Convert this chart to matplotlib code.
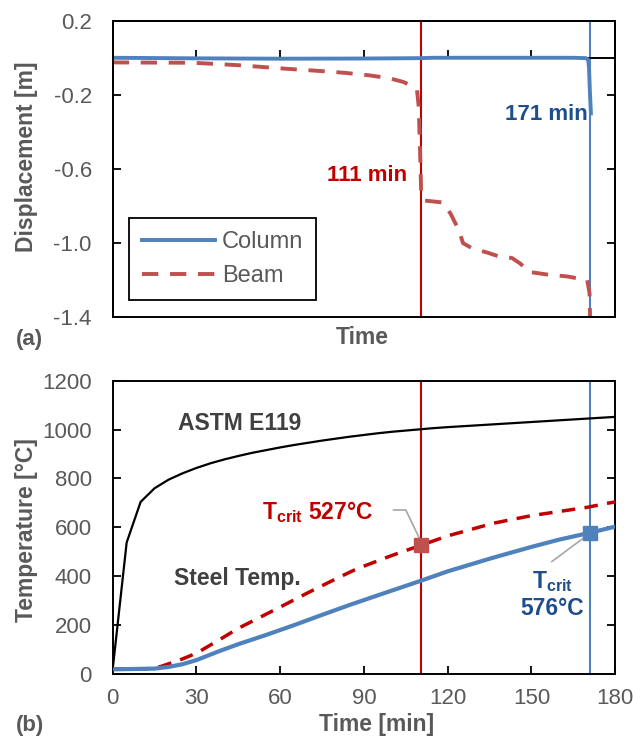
import numpy as np
import matplotlib
matplotlib.use('Agg')
import matplotlib.pyplot as plt
from matplotlib.patches import Rectangle

plt.rcParams['font.family'] = ['Liberation Sans', 'DejaVu Sans']
plt.rcParams['mathtext.fontset'] = 'custom'
plt.rcParams['mathtext.rm'] = 'Liberation Sans'
plt.rcParams['mathtext.bf'] = 'Liberation Sans:bold'
plt.rcParams['axes.unicode_minus'] = False

# --- (a) displacement data ---
col_t = [0, 30, 60, 90, 110, 115, 140, 165, 169.5, 170.3, 170.6, 170.9, 171.3]
col_d = [0.0, -0.003, -0.005, -0.004, -0.002, 0.0, 0.0, 0.0, -0.002, -0.01, -0.05, -0.17, -0.30]

beam_t = [0, 29, 45, 61, 75, 83, 92, 99, 104, 107, 109, 109.6, 110.1, 110.5, 111.5, 118, 121, 124, 125.5,
          129, 134, 138, 143, 146, 149, 156, 163, 170, 170.8, 171]
beam_d = [-0.025, -0.027, -0.04, -0.058, -0.072, -0.081, -0.095, -0.11, -0.13, -0.15, -0.175, -0.26, -0.5,
          -0.73, -0.77, -0.78, -0.84, -0.93, -1.0, -1.03, -1.05, -1.07, -1.08, -1.11, -1.155, -1.17, -1.18,
          -1.2, -1.27, -1.4]

# --- (b) temperature data ---
astm_t = [0, 5, 10, 15, 20, 25, 30, 35, 40, 45, 50, 55, 60, 65, 70, 75, 80, 85, 90, 95, 100, 105,
          110, 115, 120, 130, 140, 150, 160, 170, 180]
astm_T = [20, 538, 704, 760, 795, 821, 843, 862, 878, 892, 905, 916, 927, 937, 946, 955, 963, 971,
          978, 985, 991, 996, 1001, 1006, 1010, 1017, 1024, 1031, 1038, 1045, 1052]

beamT_t = [0, 12, 17, 24, 30, 38.5, 45, 55, 61, 70.7, 81.5, 87.4, 100, 110.5, 120, 136.4, 150, 160, 170, 177, 180]
beamT_T = [20, 21, 30, 57, 85, 142, 187, 245, 280, 337, 398, 430, 485, 527, 565, 617, 648, 665, 682, 698, 704]

colT_t = [0, 15, 20, 25, 30, 38.5, 45, 55, 65, 75, 85, 95, 110, 120, 136, 150, 160, 171, 180]
colT_T = [19, 22, 29, 40, 57, 95, 122, 160, 200, 242, 283, 322, 380, 420, 475, 520, 550, 578, 603]

crit_times = [110.5, 171]
crit_temps = [527, 576]

red = '#C00000'
red2 = '#C0504D'
blue = '#4F81BD'
dblue = '#1F4E8C'
gray = '#595959'

fig = plt.figure(figsize=(6.33, 7.4), dpi=100)
W, H = 633, 740
L, R = 112.7, 615.2
ax1 = fig.add_axes([L / W, 1 - 317.3 / H, (R - L) / W, (317.3 - 20.7) / H])
ax2 = fig.add_axes([L / W, 1 - 674 / H, (R - L) / W, (674 - 380.7) / H])

for ax in (ax1, ax2):
    for s in ax.spines.values():
        s.set_linewidth(1.4)
        s.set_color('black')
    ax.set_xlim(0, 180)
    ax.set_xticks([0, 30, 60, 90, 120, 150, 180])
    ax.tick_params(axis='y', which='both', left=True, right=True, direction='in', length=6,
                   width=1.3, labelsize=16, labelcolor=gray, pad=15)
    ax.tick_params(axis='x', direction='in', length=6, width=1.3, labelsize=16, labelcolor=gray, pad=10)
    ax.axvline(crit_times[0], color=red, lw=1.5, zorder=1)
    ax.axvline(crit_times[1], color=blue, lw=1.5, zorder=1)

# panel (a)
ax1.set_ylim(-1.4, 0.2)
ax1.set_yticks([0.2, -0.2, -0.6, -1.0, -1.4])
ax1.set_yticklabels(['0.2', '-0.2', '-0.6', '-1.0', '-1.4'])
ax1.spines['bottom'].set_position(('data', 0))
ax1.tick_params(axis='x', labelbottom=False)
ax1.add_patch(Rectangle((0, 0), 1, 1, transform=ax1.transAxes, fill=False, lw=1.4,
                        edgecolor='black', clip_on=False, zorder=5))
ax1.plot(col_t, col_d, color=blue, lw=2.8, label='Column', zorder=3)
ax1.plot(beam_t, beam_d, color=red2, lw=2.8, ls=(0, (4.2, 3.0)), label='Beam', zorder=3)
ax1.text(105.5, -0.636, '111 min', color=red, fontsize=16, fontweight='bold', ha='right', va='center')
ax1.text(170, -0.305, '171 min', color=dblue, fontsize=16, fontweight='bold', ha='right', va='center')
ax1.set_ylabel('Displacement [m]', fontsize=16.5, fontweight='bold', color=gray)
ax1.yaxis.set_label_coords(-0.148, 0.54)
leg = ax1.legend(loc='lower left', bbox_to_anchor=(0.032, 0.058), borderaxespad=0, fontsize=17,
                 fancybox=False, edgecolor='black', framealpha=1, handlelength=3.1,
                 labelspacing=0.5, borderpad=0.55, handletextpad=0.3)
leg.get_frame().set_linewidth(1.3)
for t in leg.get_texts():
    t.set_color(gray)
fig.text(362.6 / W, 1 - 337 / H, 'Time', fontsize=16.5, fontweight='bold', color=gray,
         ha='center', va='center')
fig.text(16 / W, 1 - 340 / H, '(a)', fontsize=16, fontweight='bold', color=gray, ha='left', va='center')

# panel (b)
ax2.set_ylim(0, 1200)
ax2.set_yticks(range(0, 1201, 200))
ax2.plot(astm_t, astm_T, color='black', lw=1.6, zorder=3)
ax2.plot(beamT_t, beamT_T, color=red, lw=2.5, ls=(0, (3.9, 2.7)), zorder=3)
ax2.plot(colT_t, colT_T, color=blue, lw=3, zorder=3)
ax2.plot(crit_times[0], crit_temps[0], 's', color=red2, ms=10, zorder=4)
ax2.plot(crit_times[1], crit_temps[1], 's', color=blue, ms=10, zorder=4)
ax2.plot([100.6, 105, 110.5], [671, 671, 540], color='#A6A6A6', lw=1.2, zorder=3)
ax2.plot([157.3, 171], [460, 576], color='#A6A6A6', lw=1.2, zorder=3)
ax2.text(23.5, 1026, 'ASTM E119', fontsize=16.5, fontweight='bold', color='#404040', va='center')
ax2.text(22, 391, 'Steel Temp.', fontsize=16.5, fontweight='bold', color='#404040', va='center')
ax2.text(53.5, 664, r'$\mathbf{T_{crit}}$ 527°C', fontsize=16.5, fontweight='bold', color=red, va='center')
ax2.text(157.5, 378, r'$\mathbf{T_{crit}}$', fontsize=16.5, fontweight='bold', color=dblue,
         ha='center', va='center')
ax2.text(157.5, 269, '576°C', fontsize=16.5, fontweight='bold', color=dblue, ha='center', va='center')
ax2.set_ylabel('Temperature [°C]', fontsize=16.5, fontweight='bold', color=gray)
ax2.yaxis.set_label_coords(-0.148, 0.49)
fig.text(377 / W, 1 - 725 / H, 'Time [min]', fontsize=16.5, fontweight='bold', color=gray,
         ha='center', va='center')
fig.text(16 / W, 1 - 725 / H, '(b)', fontsize=16, fontweight='bold', color=gray, ha='left', va='center')

fig.savefig('out.png', dpi=100)
